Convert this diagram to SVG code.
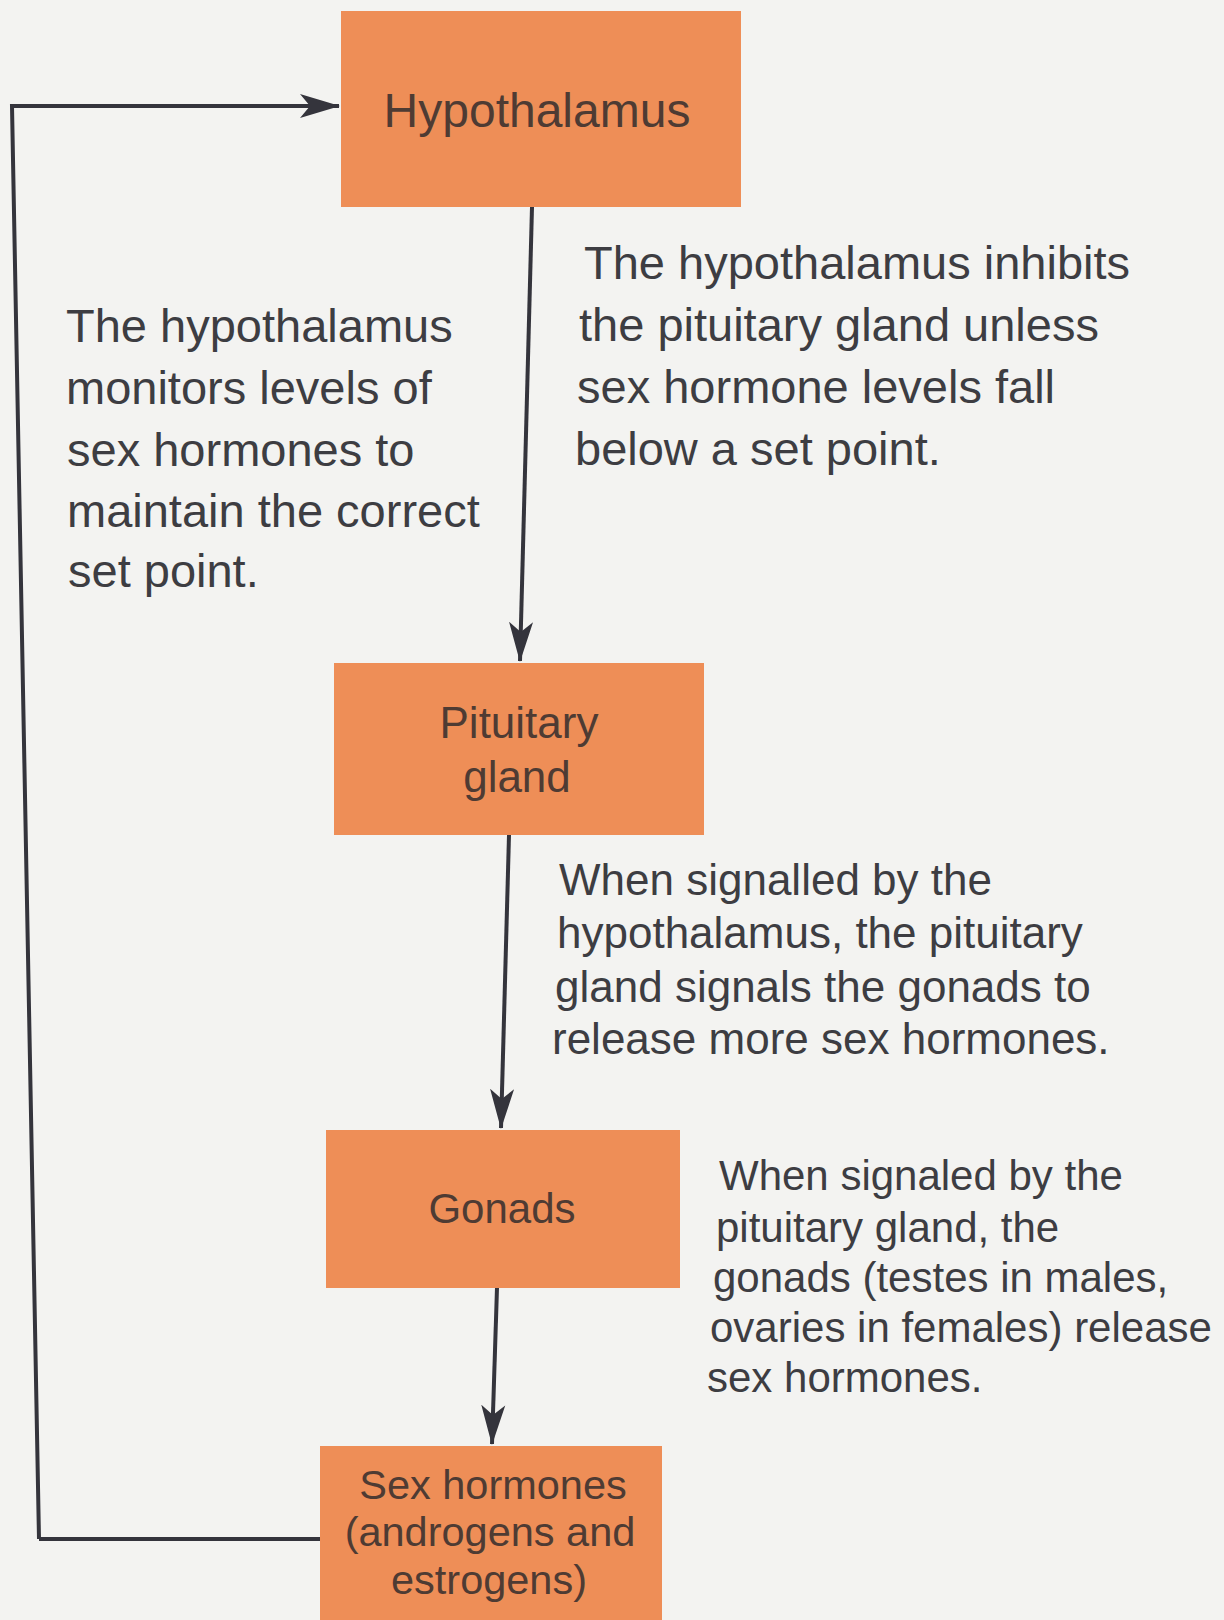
<svg xmlns="http://www.w3.org/2000/svg" width="1224" height="1620" viewBox="0 0 1224 1620">
<defs>
<style>
.box{fill:#ee8e57;}
.bt{font-family:"Liberation Sans",Arial,sans-serif;fill:#4e3b33;text-anchor:middle;}
.note{font-family:"Liberation Sans",Arial,sans-serif;fill:#3d3d42;}
.conn{fill:none;stroke:#34343c;stroke-width:4;}
</style>
<marker id="ah" markerUnits="userSpaceOnUse" viewBox="0 0 40 26" refX="39" refY="13" markerWidth="40" markerHeight="26" orient="auto">
<path d="M0,1 L40,13 L0,25 L10,13 Z" fill="#34343c"/>
</marker>
</defs>
<rect width="1224" height="1620" fill="#f3f3f1"/>

<g id="connectors">
<path class="conn" d="M39,1539 L12,106 L339,106" marker-end="url(#ah)"/>
<path class="conn" d="M320,1539 L39,1539"/>
<path class="conn" d="M532,207 L520,661" marker-end="url(#ah)"/>
<path class="conn" d="M509,835 L501,1128" marker-end="url(#ah)"/>
<path class="conn" d="M497,1288 L492,1444" marker-end="url(#ah)"/>
</g>

<g id="hypothalamus">
<rect class="box" x="341" y="11" width="400" height="196"/>
<text class="bt" x="537" y="127" font-size="48">Hypothalamus</text>
</g>

<g id="pituitary">
<rect class="box" x="334" y="663" width="370" height="172"/>
<text class="bt" x="519" y="738" font-size="44">Pituitary</text>
<text class="bt" x="517" y="792" font-size="44">gland</text>
</g>

<g id="gonads">
<rect class="box" x="326" y="1130" width="354" height="158"/>
<text class="bt" x="502" y="1223" font-size="42">Gonads</text>
</g>

<g id="sex-hormones">
<rect class="box" x="320" y="1446" width="342" height="180"/>
<text class="bt" x="493" y="1499" font-size="41.5">Sex hormones</text>
<text class="bt" x="490" y="1546" font-size="41.5">(androgens and</text>
<text class="bt" x="489" y="1594" font-size="41.5">estrogens)</text>
</g>

<g id="note-monitor" class="note" font-size="47">
<text x="66" y="342">The hypothalamus</text>
<text x="66" y="404">monitors levels of</text>
<text x="67" y="466">sex hormones to</text>
<text x="67" y="527">maintain the correct</text>
<text x="68" y="587">set point.</text>
</g>

<g id="note-inhibit" class="note" font-size="47">
<text x="584" y="279">The hypothalamus inhibits</text>
<text x="579" y="341">the pituitary gland unless</text>
<text x="577" y="403">sex hormone levels fall</text>
<text x="575" y="465">below a set point.</text>
</g>

<g id="note-pituitary" class="note" font-size="44">
<text x="559" y="895">When signalled by the</text>
<text x="557" y="948">hypothalamus, the pituitary</text>
<text x="555" y="1002">gland signals the gonads to</text>
<text x="552" y="1054">release more sex hormones.</text>
</g>

<g id="note-gonads" class="note" font-size="42">
<text x="719" y="1190">When signaled by the</text>
<text x="716" y="1242">pituitary gland, the</text>
<text x="713" y="1292">gonads (testes in males,</text>
<text x="710" y="1342">ovaries in females) release</text>
<text x="707" y="1392">sex hormones.</text>
</g>
</svg>
